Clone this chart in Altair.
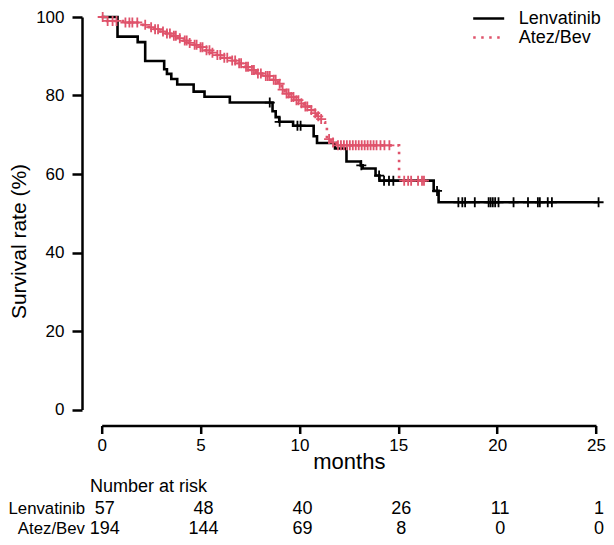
import altair as alt
import pandas as pd

groups = ["Lenvatinib", "Atez/Bev"]
colors = ["#000000", "#DF536B"]

# Kaplan-Meier steps (time in months, survival %)
lenva_time = [0, 0.8, 1.82, 2.2, 3.16, 3.3, 3.52, 3.82, 4.65, 5.2, 6.48, 8.64, 8.8, 8.98,
              9.68, 10.72, 10.89, 11.8, 12.38, 13.1, 13.2, 13.85, 14.05, 16.79, 17.04, 25.13]
lenva_surv = [100, 95.0, 93.6, 88.8, 86.7, 85.5, 84.2, 82.8, 81.0, 79.7, 78.2, 76.0, 74.5, 73.3,
              72.3, 69.6, 67.9, 66.5, 63.2, 62.2, 61.4, 59.6, 58.3, 55.7, 52.8, 52.8]
lenva_censor = [8.5, 9.0, 9.9, 10.06, 13.13, 14.03, 14.28, 14.53, 14.75, 16.96, 18.04, 18.24,
                18.38, 18.87, 19.57, 19.67, 19.78, 19.9, 20.07, 20.83, 21.56, 22.06, 22.16,
                22.56, 22.77, 25.13]

atez_time = [0, 0.1, 1.16, 2.0, 2.3, 2.6, 2.9, 3.2, 3.5, 3.8, 4.1, 4.35, 4.6, 4.85, 5.15, 5.5,
             5.75, 6.1, 6.5, 6.9, 7.2, 7.5, 7.8, 8.2, 8.56, 8.9, 9.1, 9.25, 9.5, 9.75, 10.0,
             10.22, 10.5, 10.72, 10.9, 11.05, 11.2, 11.3, 11.39, 11.6, 11.88, 15.04, 16.35]
atez_surv = [100, 99.0, 98.6, 98.0, 97.4, 96.9, 96.3, 95.8, 95.2, 94.6, 94.0, 93.4, 92.9, 92.3,
             91.5, 90.9, 90.3, 89.6, 88.9, 88.2, 87.3, 86.5, 85.6, 85.0, 84.0, 83.0, 81.5, 80.5,
             79.6, 78.8, 78.0, 77.2, 76.3, 75.5, 74.7, 74.0, 73.2, 72.4, 68.9, 68.0, 67.3, 58.3,
             58.3]
atez_censor = [0.05, 0.3, 0.55, 0.75, 1.2, 1.4, 1.55, 1.8, 2.2, 2.5, 2.7, 2.85, 3.1, 3.3, 3.45,
               3.65, 3.75, 3.95, 4.2, 4.3, 4.45, 4.7, 4.8, 5.0, 5.1, 5.3, 5.45, 5.6, 5.85, 6.0,
               6.2, 6.35, 6.6, 6.75, 6.95, 7.05, 7.3, 7.4, 7.6, 7.7, 7.9, 8.05, 8.3, 8.4, 8.5,
               8.7, 8.8, 9.0, 9.15, 9.35, 9.45, 9.6, 9.7, 9.85, 9.95, 10.1, 10.3, 10.4, 10.6,
               10.8, 10.95, 11.1, 11.5, 11.7, 11.95, 12.1, 12.25, 12.4, 12.55, 12.7, 12.85,
               13.0, 13.15, 13.3, 13.45, 13.6, 13.75, 13.9, 14.1, 14.3, 14.55, 15.3, 15.5,
               15.65, 16.0, 16.2, 16.3]

risk_times = [0, 5, 10, 15, 20, 25]
risk_lenva = [57, 48, 40, 26, 11, 1]
risk_atez = [194, 144, 69, 8, 0, 0]

x_ticks = [0, 5, 10, 15, 20, 25]
y_ticks = [0, 20, 40, 60, 80, 100]

FONT = "Liberation Sans"


def surv_at(times, survs, t):
    s = survs[0]
    for tt, ss in zip(times, survs):
        if tt <= t:
            s = ss
    return s


lines = pd.DataFrame(
    [{"t": t, "s": s, "group": groups[0]} for t, s in zip(lenva_time, lenva_surv)]
    + [{"t": t, "s": s, "group": groups[1]} for t, s in zip(atez_time, atez_surv)]
)
cens_l = pd.DataFrame({"t": lenva_censor,
                       "s": [surv_at(lenva_time, lenva_surv, t) for t in lenva_censor]})
cens_a = pd.DataFrame({"t": atez_censor,
                       "s": [surv_at(atez_time, atez_surv, t) for t in atez_censor]})
risk_l = pd.DataFrame({"t": risk_times, "n": [str(v) for v in risk_lenva]})
risk_a = pd.DataFrame({"t": risk_times, "n": [str(v) for v in risk_atez]})
labels = pd.DataFrame({"label": ["Number at risk", groups[0], groups[1]]})

W = 494.3
H = 392.5
PAD_L = 93.7
PAD_T = 9
SVG_W = 598
SVG_H = 529

xscale = alt.Scale(domain=[0, 25], nice=False, zero=False)
yscale = alt.Scale(domain=[0, 100], nice=False, zero=False)

x_axis = alt.Axis(values=x_ticks, offset=16, tickSize=8, labelPadding=4, labelFontSize=17,
                  title="months", titleFontSize=22, titleFontWeight="normal",
                  titleY=36, titleBaseline="middle", grid=False, labelFlush=False)
y_axis = alt.Axis(values=y_ticks, offset=19.7, tickSize=10, labelPadding=8, labelFontSize=17,
                  title="Survival rate (%)", titleFontSize=21, titleFontWeight="normal",
                  titleX=-62.5, titleY=224, titleBaseline="middle", grid=False)

X = alt.X("t:Q", scale=xscale, axis=x_axis)
Y = alt.Y("s:Q", scale=yscale, axis=y_axis)
Xn = alt.X("t:Q", scale=xscale)
Yn = alt.Y("s:Q", scale=yscale)

legend = alt.Legend(title=None, orient="none", legendX=370, legendY=-8, symbolType="stroke",
                    symbolSize=961, symbolStrokeWidth=2.6, labelFontSize=18, labelFont=FONT,
                    labelOffset=13, rowPadding=0, clipHeight=19, padding=0)

km = alt.Chart(lines).mark_line(interpolate="step-after", strokeWidth=2.6).encode(
    x=X, y=Y,
    color=alt.Color("group:N", scale=alt.Scale(domain=groups, range=colors), legend=legend),
    strokeDash=alt.StrokeDash("group:N",
                              scale=alt.Scale(domain=groups, range=[[1, 0], [2.5, 5.5]]),
                              legend=legend),
)

plus = "M-1,0H1M0,-1V1"
c1 = alt.Chart(cens_l).mark_point(shape=plus, size=100, strokeWidth=1.8, filled=False,
                                  color=colors[0], opacity=1).encode(x=Xn, y=Yn)
c2 = alt.Chart(cens_a).mark_point(shape=plus, size=100, strokeWidth=1.8, filled=False,
                                  color=colors[1], opacity=1).encode(x=Xn, y=Yn)

t_style = dict(font=FONT, color="black", baseline="middle")
r1 = alt.Chart(risk_l).mark_text(align="center", fontSize=18, dx=3, **t_style).encode(
    x=Xn, y=alt.value(492), text="n:N")
r2 = alt.Chart(risk_a).mark_text(align="center", fontSize=18, dx=3, **t_style).encode(
    x=Xn, y=alt.value(512), text="n:N")
head = alt.Chart(labels).transform_filter(alt.datum.label == "Number at risk").mark_text(
    align="left", fontSize=18, **t_style).encode(x=alt.value(-11.7), y=alt.value(470),
                                                 text="label:N")
lab1 = alt.Chart(labels).transform_filter(alt.datum.label == groups[0]).mark_text(
    align="right", fontSize=16.8, **t_style).encode(x=alt.value(-16.7), y=alt.value(492),
                                                    text="label:N")
lab2 = alt.Chart(labels).transform_filter(alt.datum.label == groups[1]).mark_text(
    align="right", fontSize=16.8, **t_style).encode(x=alt.value(-16.7), y=alt.value(512),
                                                    text="label:N")

chart = alt.layer(km, c1, c2, r1, r2, head, lab1, lab2).properties(
    width=W, height=H,
    autosize=alt.AutoSizeParams(type="none"),
    padding={"left": PAD_L, "top": PAD_T, "right": SVG_W - PAD_L - W,
             "bottom": SVG_H - PAD_T - H},
).configure_view(stroke=None).configure_axis(
    domainColor="black", tickColor="black", domainWidth=2.5, tickWidth=2.5,
    labelColor="black", titleColor="black", labelFont=FONT, titleFont=FONT,
)

chart.save("out.html", embed_options={"renderer": "svg", "actions": False})
